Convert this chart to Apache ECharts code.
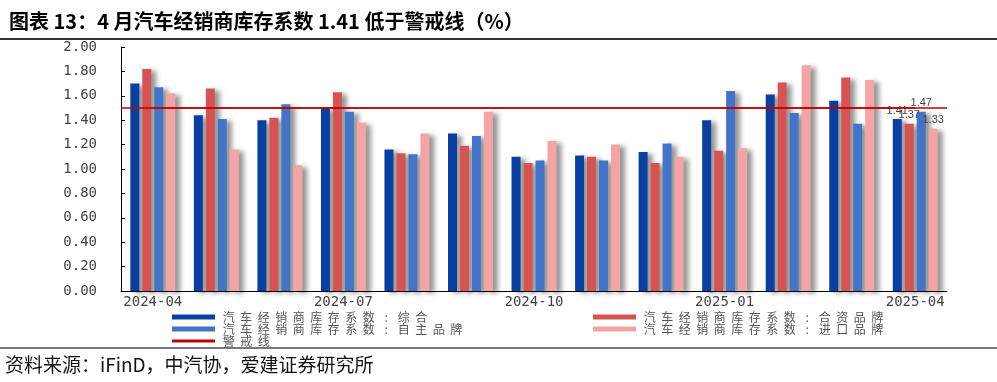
<!DOCTYPE html>
<html>
<head>
<meta charset="utf-8">
<script src="https://cdn.jsdelivr.net/npm/echarts@6/dist/echarts.min.js"></script>
<style>html,body{margin:0;padding:0;background:#fff}#chart{width:997px;height:382px}</style>
</head>
<body>
<div id="chart"></div>
<script>
const categories = ['2024-04','2024-05','2024-06','2024-07','2024-08','2024-09','2024-10','2024-11','2024-12','2025-01','2025-02','2025-03','2025-04'];
const seriesNames = ['汽车经销商库存系数:综合','汽车经销商库存系数:合资品牌','汽车经销商库存系数:自主品牌','汽车经销商库存系数:进口品牌','警戒线'];
const zonghe = [1.70,1.44,1.40,1.50,1.16,1.29,1.10,1.11,1.14,1.40,1.61,1.56,1.41];
const hezi   = [1.82,1.66,1.42,1.63,1.13,1.19,1.05,1.10,1.05,1.15,1.71,1.75,1.37];
const zizhu  = [1.67,1.41,1.53,1.47,1.12,1.27,1.07,1.07,1.21,1.64,1.46,1.37,1.47];
const jinkou = [1.62,1.16,1.03,1.38,1.29,1.47,1.23,1.20,1.10,1.17,1.85,1.73,1.33];
const warning = [1.5,1.5,1.5,1.5,1.5,1.5,1.5,1.5,1.5,1.5,1.5,1.5,1.5];
const colors = ['#0B3F9F','#D65353','#4574C6','#F3A5A5','#C00000'];

const chart = echarts.init(document.getElementById('chart'));
const last = categories.length - 1;
function barData(arr){
  return arr.map((v,i)=> i===last ? {value:v,label:{show:true}} : v);
}
function bar(idx, arr){
  return {
    name: seriesNames[idx], type:'bar', data: barData(arr),
    barWidth: 9, barGap: '33%',
    itemStyle:{color:colors[idx], shadowColor:'rgba(0,0,0,0.42)', shadowBlur:5, shadowOffsetX:5, shadowOffsetY:2},
    label:{show:false, position:'top', distance:3, fontSize:11, color:'#444', fontFamily:'Liberation Sans, Arial', formatter: p=>p.value.toFixed(2)},
    emphasis:{disabled:true}
  };
}
const legendText = {fontSize:12, color:'#555', fontFamily:'Noto Sans CJK SC',
  rich:{c:{width:17.5, align:'center', fontSize:12, color:'#555', fontFamily:'Noto Sans CJK SC'}}};
const legendFmt = name => name.split('').map(ch => '{c|' + ch + '}').join('');
chart.setOption({
  animation:false,
  title:{text:'图表 13：4 月汽车经销商库存系数 1.41 低于警戒线（%）', left:4, top:6,
    textStyle:{fontSize:20, fontWeight:'bold', color:'#000', fontFamily:'Noto Sans CJK SC'}},
  grid:{left:121, right:50, top:47, bottom:91},
  legend:[
    {left:172, top:311, padding:0, orient:'vertical', itemWidth:43, itemHeight:5, itemGap:0,
     data:[{name:seriesNames[0], icon:'rect'},{name:seriesNames[2], icon:'rect'},
           {name:seriesNames[4], icon:'path://M0,0H43V3H0Z', itemStyle:{color:colors[4]}, lineStyle:{width:3, color:colors[4]}}],
     formatter:legendFmt, textStyle:legendText},
    {left:593, top:311, padding:0, orient:'vertical', itemWidth:43, itemHeight:5, itemGap:0,
     data:[{name:seriesNames[1], icon:'rect'},{name:seriesNames[3], icon:'rect'}],
     formatter:legendFmt, textStyle:legendText}
  ],
  xAxis:{type:'category', data:categories,
    axisLine:{lineStyle:{color:'#000', width:1}},
    axisTick:{inside:true, length:5, interval:2, lineStyle:{color:'#000'}},
    axisLabel:{interval:2, margin:4, fontSize:14, color:'#444', fontFamily:'DejaVu Sans Mono'}},
  yAxis:{type:'value', min:0, max:2, interval:0.2,
    axisLine:{show:true, lineStyle:{color:'#000', width:1}},
    axisTick:{show:true, inside:true, length:4, lineStyle:{color:'#000'}},
    splitLine:{show:false},
    axisLabel:{margin:24, fontSize:14, color:'#444', fontFamily:'DejaVu Sans Mono', formatter:v=>v.toFixed(2)}},
  series:[
    bar(0, zonghe), bar(1, hezi), bar(2, zizhu), bar(3, jinkou),
    {name:seriesNames[4], type:'line', data:warning, symbol:'none', z:5,
     lineStyle:{color:colors[4], width:1.5}, itemStyle:{color:colors[4]},
     markLine:{silent:true, symbol:'none', label:{show:false},
       lineStyle:{color:colors[4], width:1.5, type:'solid'},
       data:[{yAxis:warning[0]}]}}
  ],
  graphic:[
    {type:'line', shape:{x1:0,y1:39,x2:997,y2:39}, style:{stroke:'#333', lineWidth:2}},
    {type:'line', shape:{x1:0,y1:348,x2:997,y2:348}, style:{stroke:'#777', lineWidth:2}},
    {type:'text', left:5, top:355, style:{text:'资料来源：iFinD，中汽协，爱建证券研究所', fontSize:19, fill:'#111', fontFamily:'Noto Sans CJK SC'}}
  ]
});
</script>
</body>
</html>
